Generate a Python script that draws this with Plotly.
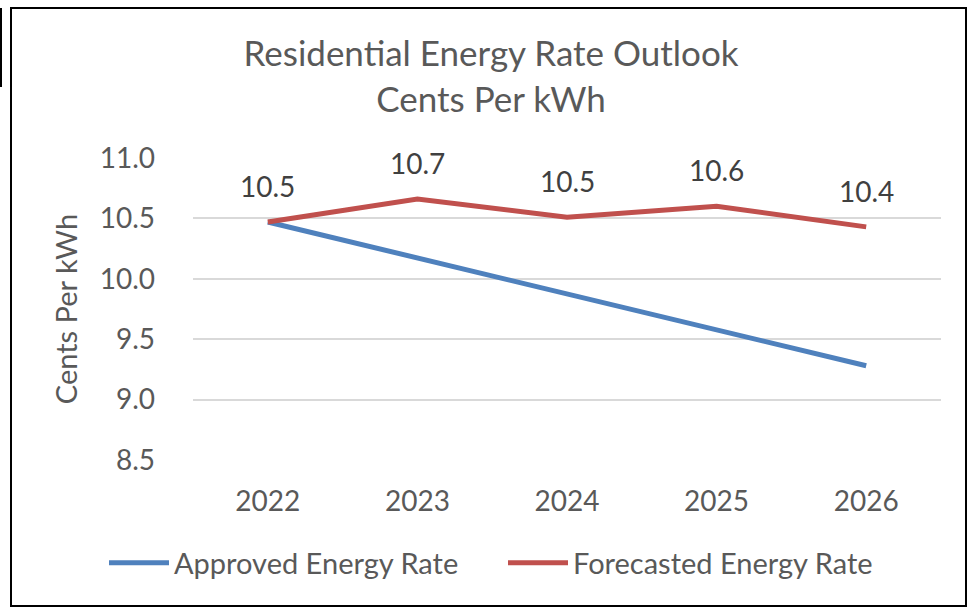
import plotly.graph_objects as go

years = ["2022", "2023", "2024", "2025", "2026"]
approved = [10.47, 10.17, 9.88, 9.58, 9.28]
forecast = [10.47, 10.66, 10.51, 10.60, 10.43]
forecast_labels = ["10.5", "10.7", "10.5", "10.6", "10.4"]
y_ticks = [8.5, 9.0, 9.5, 10.0, 10.5, 11.0]
y_tick_text = ["8.5", "9.0", "9.5", "10.0", "10.5", "11.0"]

FONT = "Lato, 'Open Sans', sans-serif"
BLUE = "#4F81BD"
RED = "#C0504D"

fig = go.Figure()
fig.add_trace(go.Scatter(x=years, y=approved, mode="lines", name="Approved Energy Rate",
                         line=dict(color=BLUE, width=5), hoverinfo="skip"))
fig.add_trace(go.Scatter(x=years, y=forecast, mode="lines", name="Forecasted Energy Rate",
                         line=dict(color=RED, width=5), hoverinfo="skip"))

for i, (y, t) in enumerate(zip(forecast, forecast_labels)):
    fig.add_annotation(x=i, y=y, text=t, showarrow=False, yshift=36,
                       font=dict(family=FONT, size=28, color="#404040"))

W, H = 969, 610
L, R, T, B = 193, 28, 158, 150
pw, ph = W - L - R, H - T - B
def px(xp): return (xp - L) / pw
def py(yp): return (H - B - yp) / ph

fig.add_shape(type="rect", xref="paper", yref="paper",
              x0=px(11), x1=px(966), y0=py(606), y1=py(8),
              line=dict(color="black", width=2))
fig.add_shape(type="line", xref="paper", yref="paper",
              x0=px(1), x1=px(1), y0=py(87), y1=py(8),
              line=dict(color="black", width=2))

fig.update_layout(
    width=W, height=H,
    margin=dict(l=L, r=R, t=T, b=B),
    paper_bgcolor="white", plot_bgcolor="white",
    title=dict(text="Residential Energy Rate Outlook<br>Cents Per kWh",
               x=491 / W, xanchor="center", y=1 - 66 / H, yanchor="middle",
               font=dict(family=FONT, size=35, color="#595959")),
    showlegend=True,
    legend=dict(orientation="h", x=px(104), xanchor="left", y=py(563), yanchor="middle",
                font=dict(family=FONT, size=29, color="#595959"),
                itemwidth=60, tracegroupgap=0, entrywidth=324, entrywidthmode="pixels"),
    xaxis=dict(type="category", range=[-0.5, 4.5], showgrid=False, showline=False,
               ticks="", tickfont=dict(family=FONT, size=28, color="#595959"), ticklabelstandoff=22),
    yaxis=dict(range=[8.5, 11.0], tickvals=y_ticks, ticktext=y_tick_text,
               showgrid=True, gridcolor="#D9D9D9", gridwidth=2, zeroline=False,
               showline=False, ticks="", tickfont=dict(family=FONT, size=28, color="#595959"),
               ticklabelstandoff=37,
               title=dict(text="Cents Per kWh", standoff=13,
                          font=dict(family=FONT, size=29, color="#595959"))),
)

fig.write_html("out.html", config={"displayModeBar": False},
               post_script="document.body.style.margin='0';")
